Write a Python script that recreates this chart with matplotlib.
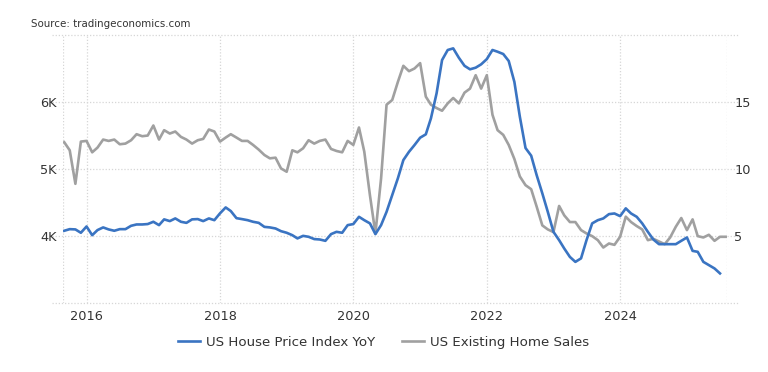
import matplotlib
matplotlib.use("Agg")
import matplotlib.pyplot as plt
import matplotlib.dates as mdates
import pandas as pd

# breed lettertype, het origineel is horizontaal uitgerekt
plt.rcParams["font.family"] = ["DejaVu Sans"]

# maandelijkse reeks, sep 2015 t/m aug 2025
months = pd.date_range("2015-09-01", "2025-08-01", freq="MS")

# US Existing Home Sales (thousands, linker as)
home_sales = [
    5400, 5280, 4780, 5410,
    5420, 5250, 5320, 5440, 5420, 5440, 5370, 5380, 5430, 5520, 5490, 5500,
    5650, 5440, 5580, 5530, 5560, 5480, 5440, 5380, 5430, 5450, 5590, 5560,
    5410, 5470, 5520, 5470, 5420, 5420, 5360, 5290, 5210, 5160, 5170, 5010,
    4960, 5280, 5250, 5310, 5430, 5380, 5420, 5440, 5300, 5270, 5250, 5420,
    5360, 5620, 5260, 4610, 4040, 4860, 5960, 6030, 6300, 6540, 6460, 6500,
    6580, 6080, 5960, 5910, 5870, 5980, 6060, 5980, 6140, 6200, 6400, 6200,
    6400, 5810, 5580, 5510, 5360, 5150, 4890, 4760, 4700, 4440, 4160, 4100,
    4060, 4450, 4310, 4210, 4210, 4090, 4040, 4000, 3940, 3830, 3890, 3870,
    3990, 4290, 4210, 4150, 4100, 3940, 3960, 3920, 3880, 3980, 4140, 4270,
    4090, 4250, 4000, 3980, 4020, 3930, 3990, 3990,
]

# US House Price Index YoY (%, rechter as) - t/m jul 2025
hpi_yoy = [
    5.40, 5.52, 5.50, 5.25,
    5.72, 5.07, 5.45, 5.65, 5.50, 5.40, 5.52, 5.52, 5.77, 5.87, 5.87, 5.90,
    6.07, 5.82, 6.25, 6.12, 6.32, 6.07, 5.99, 6.25, 6.27, 6.12, 6.32, 6.19,
    6.70, 7.14, 6.87, 6.34, 6.27, 6.19, 6.07, 5.99, 5.69, 5.65, 5.57, 5.37,
    5.25, 5.07, 4.83, 5.02, 4.95, 4.78, 4.75, 4.65, 5.15, 5.32, 5.25, 5.82,
    5.90, 6.44, 6.19, 5.95, 5.15, 5.82, 6.81, 8.06, 9.31, 10.67, 11.29, 11.79,
    12.34, 12.59, 13.78, 15.65, 18.13, 18.88, 19.00, 18.30, 17.70, 17.44, 17.56, 17.81,
    18.20, 18.88, 18.75, 18.58, 18.06, 16.50, 13.90, 11.57, 11.00, 9.55, 8.19, 6.81,
    5.32, 4.70, 4.08, 3.45, 3.08, 3.34, 4.70, 5.95, 6.19, 6.32, 6.64, 6.69,
    6.49, 7.07, 6.69, 6.44, 5.95, 5.32, 4.75, 4.40, 4.40, 4.40, 4.40, 4.65,
    4.90, 3.90, 3.83, 3.08, 2.84, 2.59, 2.22,
]

left_ticks = [4000, 5000, 6000]
left_labels = ["4K", "5K", "6K"]
right_ticks = [5, 10, 15]
year_ticks = [2016, 2018, 2020, 2022, 2024]

BLUE = "#3a74c2"
GRAY = "#a0a0a0"
GRID = "#d6d6d6"
TXT = "#333333"

fig = plt.figure(figsize=(7.68, 3.72), dpi=100)
ax = fig.add_axes([0.082, 0.185, 0.865, 0.721])
ax2 = ax.twinx()

ax.plot(months, home_sales, color=GRAY, lw=1.9, zorder=3)
ax2.plot(months[:len(hpi_yoy)], hpi_yoy, color=BLUE, lw=1.9, zorder=3)

ax.set_ylim(3000, 7000)
ax2.set_ylim(0, 20)
ax.set_xlim(pd.Timestamp("2015-08-25"), pd.Timestamp("2025-08-10"))

# rooster: gestippelde lijnen, iets breder dan de plot
for y in [3000, 4000, 5000, 6000, 7000]:
    ax.axhline(y, xmin=-0.017, xmax=1.018, color=GRID, lw=0.9, ls=(0, (1, 1.5)),
               clip_on=False, zorder=1)
for yr in year_ticks:
    ax.axvline(pd.Timestamp(f"{yr}-01-01"), color=GRID, lw=0.9, ls=(0, (1, 1.5)), zorder=1)
for xe in [0, 1]:
    ax.axvline(ax.get_xlim()[xe], color=GRID, lw=0.9, ls=(0, (1, 1.5)), zorder=1)

for a in (ax, ax2):
    for s in a.spines.values():
        s.set_visible(False)

ax.set_yticks(left_ticks)
ax.set_yticklabels(left_labels)
ax2.set_yticks(right_ticks)
ax.set_xticks([pd.Timestamp(f"{y}-01-01") for y in year_ticks])
ax.xaxis.set_major_formatter(mdates.DateFormatter("%Y"))

ax.tick_params(axis="both", length=0, labelsize=9.3, labelcolor=TXT)
ax.tick_params(axis="y", pad=4.5)
ax.tick_params(axis="x", pad=5)
ax2.tick_params(axis="y", length=0, labelsize=9.3, labelcolor=TXT, pad=5)

fig.text(0.040, 0.935, "Source: tradingeconomics.com", fontsize=7.4, color=TXT,
         va="center")

handles = [
    plt.Line2D([], [], color=BLUE, lw=1.9, label="US House Price Index YoY"),
    plt.Line2D([], [], color=GRAY, lw=1.9, label="US Existing Home Sales"),
]
fig.legend(handles=handles, loc="center", bbox_to_anchor=(0.5, 0.08), ncol=2,
           frameon=False, fontsize=9.6, handlelength=1.6, handletextpad=0.5,
           columnspacing=2.0, labelcolor=TXT)

fig.savefig("out.png", dpi=100)
